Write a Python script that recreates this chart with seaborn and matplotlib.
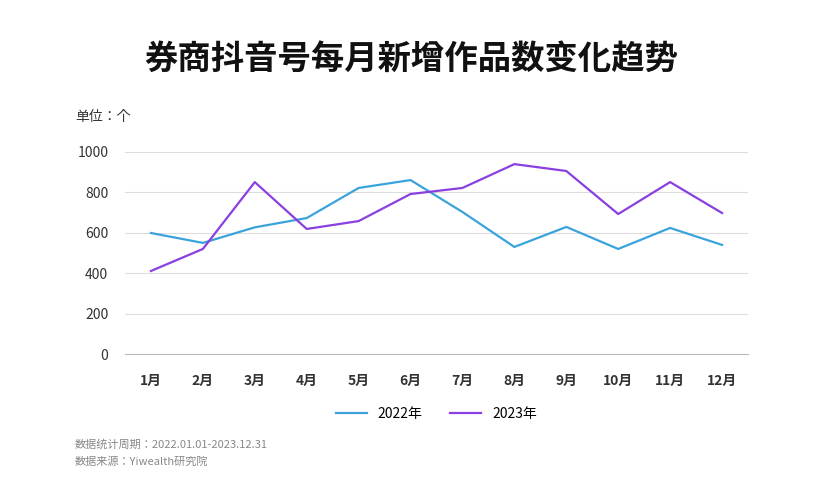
import matplotlib
matplotlib.use("Agg")
import matplotlib.pyplot as plt
from matplotlib import font_manager as fm
import seaborn as sns
import pandas as pd
import glob

months = ["1月","2月","3月","4月","5月","6月","7月","8月","9月","10月","11月","12月"]
y2022 = [599, 550, 627, 673, 822, 861, 703, 530, 629, 520, 624, 540]
y2023 = [411, 520, 851, 619, 658, 792, 822, 940, 906, 693, 851, 698]
yticks = [0, 200, 400, 600, 800, 1000]

fams = []
for f in glob.glob("/usr/share/fonts/**/*CJK*", recursive=True) + glob.glob("/usr/local/share/fonts/**/*CJK*", recursive=True):
    try:
        fm.fontManager.addfont(f)
        fams.append(fm.FontProperties(fname=f).get_name())
    except Exception:
        pass
names = {f.name for f in fm.fontManager.ttflist}
cands = [n for n in ["Noto Sans CJK SC", "Noto Sans CJK JP", "Noto Sans SC"] if n in names] + fams
plt.rcParams["font.family"] = "sans-serif"
plt.rcParams["font.sans-serif"] = cands + ["DejaVu Sans"]

df = pd.DataFrame({"month": months * 2, "value": y2022 + y2023,
                   "year": ["2022年"] * 12 + ["2023年"] * 12})

fig = plt.figure(figsize=(8.23, 5), dpi=100)
ax = fig.add_axes([125/823, 1-354/500, 623/823, 202/500])
sns.lineplot(data=df, x="month", y="value", hue="year", sort=False,
             palette=["#3ba3dc", "#8a3fe0"], linewidth=1.6, ax=ax)
ax.set_ylim(0, 1000)
ax.set_yticks(yticks)
ax.set_xlim(-0.5, 11.5)
ax.grid(axis="y", color="#dddddd", linewidth=0.8)
ax.set_axisbelow(True)
for s in ["top", "right", "left"]:
    ax.spines[s].set_visible(False)
ax.spines["bottom"].set_color("#bbbbbb")
ax.tick_params(axis="both", length=0, labelsize=10, colors="#333333", pad=12)
ax.tick_params(axis="x", pad=14)
for l in ax.get_xticklabels():
    l.set_fontweight("bold")
ax.set_xlabel(""); ax.set_ylabel("")
ax.legend(loc="upper center", bbox_to_anchor=(0.5, -0.2), ncol=2, frameon=False,
          fontsize=10, handlelength=2.2, columnspacing=2)
fig.text(0.5, 0.88, "券商抖音号每月新增作品数变化趋势", ha="center", va="center",
         fontsize=24, fontweight="bold", color="#111111")
fig.text(75/823, 1-117/500, "单位：个", fontsize=10, color="#333333", va="center")
fig.text(75/823, 1-444/500, "数据统计周期：2022.01.01-2023.12.31", fontsize=8, color="#888888", va="center")
fig.text(75/823, 1-462/500, "数据来源：Yiwealth研究院", fontsize=8, color="#888888", va="center")
fig.savefig("out.png", dpi=100)
